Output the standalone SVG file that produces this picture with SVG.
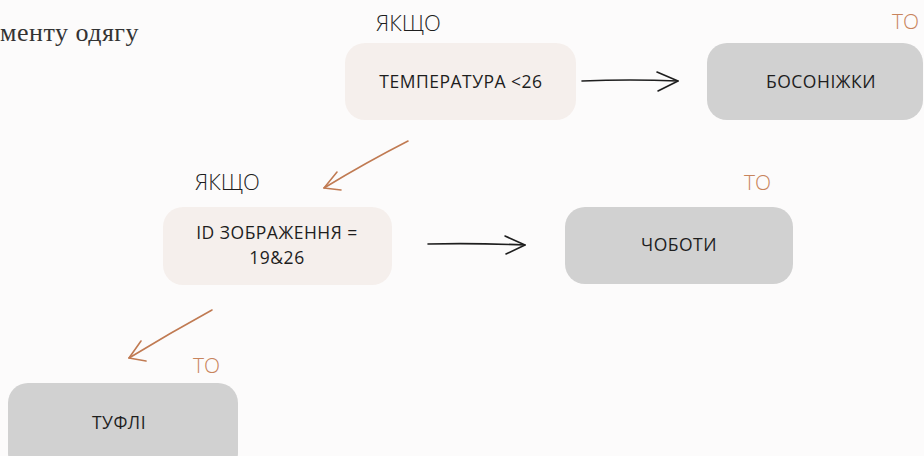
<svg xmlns="http://www.w3.org/2000/svg" width="924" height="456" viewBox="0 0 924 456">
<style>
.bg{fill:#fcfbfb}
.cond{fill:#f5efec}
.res{fill:#d1d1d1}
.nt{font-family:"Open Sans","Liberation Sans",sans-serif;font-weight:500;font-size:17.5px;letter-spacing:0.5px;fill:#1e1e1e;text-anchor:middle}
.if{font-family:"Open Sans","Liberation Sans",sans-serif;font-weight:300;font-size:22px;fill:#1e1e1e}
.to{font-family:"Open Sans","Liberation Sans",sans-serif;font-weight:300;font-size:21px;fill:#c8845c}
.ink{fill:none;stroke:#1e1e1e;stroke-width:1.6;stroke-linecap:round;stroke-linejoin:round}
.cu{fill:none;stroke:#c07a52;stroke-width:1.6;stroke-linecap:round;stroke-linejoin:round}
.cap{font-family:"Liberation Serif","DejaVu Serif",serif;font-size:26px;letter-spacing:0.5px;fill:#333}
</style>
<rect class="bg" width="924" height="456"/>
<text class="cap" x="0" y="41">менту одягу</text>

<text class="if" x="376" y="31">ЯКЩО</text>
<text class="if" x="195" y="190">ЯКЩО</text>
<text class="to" x="892" y="29">ТО</text>
<text class="to" x="744" y="190">ТО</text>
<text class="to" x="193" y="373">ТО</text>

<g id="connectors">
<path class="ink" d="M582 81 Q630 79 678 81"/>
<path class="ink" d="M657 72 L678 81 L658 91"/>
<path class="ink" d="M428 244 Q476 243 525 245"/>
<path class="ink" d="M505 236 L525 245 L506 254"/>
<path class="cu" d="M408 141 Q365 163 324 188"/>
<path class="cu" d="M337 172 L324 188 L341 190"/>
<path class="cu" d="M212 310 Q170 333 129 358"/>
<path class="cu" d="M141 341 L129 358 L146 361"/>
</g>

<g id="n-temp">
<rect class="cond" x="345" y="43" width="231" height="77" rx="20"/>
<text class="nt" x="461" y="88">ТЕМПЕРАТУРА &lt;26</text>
</g>
<g id="n-bos">
<rect class="res" x="707" y="43" width="216" height="77" rx="20"/>
<text class="nt" x="821" y="88">БОСОНІЖКИ</text>
</g>
<g id="n-id">
<rect class="cond" x="163" y="207" width="229" height="78" rx="20"/>
<text class="nt" x="277" y="239">ID ЗОБРАЖЕННЯ =</text>
<text class="nt" x="277" y="264">19&amp;26</text>
</g>
<g id="n-chob">
<rect class="res" x="565" y="207" width="228" height="77" rx="20"/>
<text class="nt" x="679" y="251">ЧОБОТИ</text>
</g>
<g id="n-tufli">
<rect class="res" x="8" y="383" width="230" height="90" rx="20"/>
<text class="nt" x="119" y="429">ТУФЛІ</text>
</g>
</svg>
